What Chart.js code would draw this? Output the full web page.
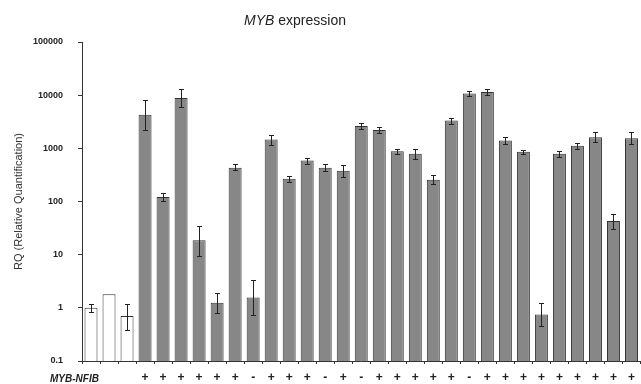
<!DOCTYPE html>
<html>
<head>
<meta charset="utf-8">
<script src="https://cdn.jsdelivr.net/npm/chart.js@4/dist/chart.umd.min.js"></script>
<style>
  body { margin: 0; background: #fff; }
  canvas { display: block; }
</style>
</head>
<body>
<canvas id="chart" width="641" height="384"></canvas>
<script>
// MYB-NFIB fusion status under each sample ('' = control)
const signs = ["", "", "", "+", "+", "+", "+", "+", "+", "-", "+", "+", "+", "-", "+", "-",
  "+", "+", "+", "+", "+", "-", "+", "+", "+", "+", "+", "+", "+", "+", "+"];

// relative quantification (RQ) per sample
const rqValues = [1.0, 1.8, 0.7, 4300, 121, 8850, 18.6, 1.24, 430, 1.57, 1460, 268, 590, 430, 378,
  2640, 2220, 883, 790, 256, 3330, 10800, 11500, 1400, 860, 0.75, 790, 1115, 1615, 43, 1550];

// error bar ends (null = no error bar)
const errHigh = [1.2, null, 1.17, 8100, 144, 13000, 34, 1.9, 497, 3.3, 1815, 305, 663, 497, 490,
  3000, 2490, 977, 977, 310, 3730, 12100, 13100, 1615, 937, 1.21, 883, 1250, 2000, 57, 2000];
const errLow = [0.82, null, 0.38, 2200, 102, 5900, 9.3, 0.8, 383, 0.73, 1180, 228, 512, 372, 290,
  2320, 1920, 766, 635, 210, 2880, 9800, 10200, 1215, 789, 0.45, 681, 977, 1300, 31, 1215];

const yTicks = [0.1, 1, 10, 100, 1000, 10000, 100000];
const yTickLabels = ["0.1", "1", "10", "100", "1000", "10000", "100000"];
const controlCount = 3;

const errorBars = {
  id: "errorBars",
  afterDatasetsDraw(chart) {
    const meta = chart.getDatasetMeta(0);
    const y = chart.scales.y;
    const ctx = chart.ctx;
    ctx.save();
    ctx.strokeStyle = "#222";
    ctx.lineWidth = 1;
    meta.data.forEach((bar, i) => {
      if (errHigh[i] == null) return;
      const x = Math.round(bar.x) + 0.5;
      const yh = Math.round(y.getPixelForValue(errHigh[i])) + 0.5;
      const yl = Math.round(y.getPixelForValue(errLow[i])) + 0.5;
      ctx.beginPath();
      ctx.moveTo(x, yh); ctx.lineTo(x, yl);
      ctx.moveTo(x - 2.5, yh); ctx.lineTo(x + 2.5, yh);
      ctx.moveTo(x - 2.5, yl); ctx.lineTo(x + 2.5, yl);
      ctx.stroke();
    });
    ctx.restore();
  }
};

const extraText = {
  id: "extraText",
  afterDraw(chart) {
    const ctx = chart.ctx;
    ctx.save();
    ctx.fillStyle = "#222";
    ctx.textBaseline = "middle";
    // title with italic gene name
    ctx.font = "italic 14px 'Liberation Sans', Arial, sans-serif";
    const p1 = "MYB";
    const w1 = ctx.measureText(p1).width;
    ctx.font = "14px 'Liberation Sans', Arial, sans-serif";
    const p2 = " expression";
    const w2 = ctx.measureText(p2).width;
    const x0 = 295 - (w1 + w2) / 2;
    ctx.font = "italic 14px 'Liberation Sans', Arial, sans-serif";
    ctx.fillText(p1, x0, 21);
    ctx.font = "14px 'Liberation Sans', Arial, sans-serif";
    ctx.fillText(p2, x0 + w1, 21);
    // row label for the +/- line
    ctx.font = "italic bold 10px 'Liberation Sans', Arial, sans-serif";
    ctx.fillText("MYB-NFIB", 50, 379);
    ctx.restore();
  }
};

new Chart(document.getElementById("chart"), {
  type: "bar",
  data: {
    labels: signs,
    datasets: [{
      data: rqValues,
      backgroundColor: (c) => c.dataIndex < controlCount ? "#ffffff" : "#878787",
      borderColor: "#333",
      borderWidth: 1,
      barPercentage: 0.72,
      categoryPercentage: 1
    }]
  },
  options: {
    responsive: false,
    animation: false,
    layout: { padding: { top: 42, left: 0, right: 0, bottom: 0 } },
    plugins: {
      legend: { display: false },
      tooltip: { enabled: false }
    },
    scales: {
      x: {
        afterFit: (s) => { s.height = 23; },
        grid: { drawOnChartArea: false, tickLength: 3, color: "#333", offset: true },
        border: { color: "#333" },
        ticks: {
          padding: 6,
          color: "#222",
          maxRotation: 0,
          autoSkip: false,
          font: { family: "'Liberation Sans', Arial, sans-serif", size: 12, weight: "bold" }
        }
      },
      y: {
        type: "logarithmic",
        min: 0.1,
        max: 100000,
        afterFit: (s) => { s.width = 82; },
        afterBuildTicks: (s) => { s.ticks = yTicks.map(v => ({ value: v })); },
        grid: { drawOnChartArea: false, tickLength: 4, color: "#333" },
        border: { color: "#333" },
        ticks: {
          padding: 15,
          color: "#222",
          font: { family: "'Liberation Sans', Arial, sans-serif", size: 9, weight: "bold" },
          callback: (v) => {
            const i = yTicks.indexOf(v);
            return i >= 0 ? yTickLabels[i] : "";
          }
        },
        title: {
          display: true,
          text: "RQ (Relative Quantification)",
          color: "#333",
          padding: { top: 12, bottom: 0 },
          font: { family: "'Liberation Sans', Arial, sans-serif", size: 11 }
        }
      }
    }
  },
  plugins: [errorBars, extraText]
});
</script>
</body>
</html>
